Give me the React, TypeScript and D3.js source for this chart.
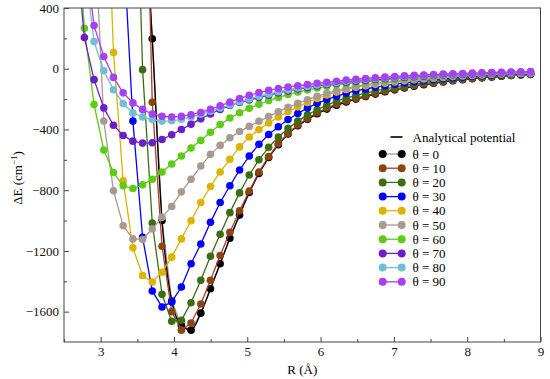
import React, { useEffect, useRef } from 'react';
import * as d3 from 'd3';

// R grid (Å), 0.25 bohr steps
const rA = [2.646, 2.778, 2.910, 3.043, 3.175, 3.307, 3.440, 3.572, 3.704, 3.837,
  3.969, 4.101, 4.233, 4.366, 4.498, 4.630, 4.763, 4.895, 5.027, 5.159,
  5.292, 5.424, 5.556, 5.689, 5.821, 5.953, 6.085, 6.218, 6.350, 6.482,
  6.615, 6.747, 6.879, 7.012, 7.144, 7.276, 7.408, 7.541, 7.673, 7.805,
  7.938, 8.070, 8.202, 8.335, 8.467, 8.599, 8.731, 8.864];

const thetas = [0, 10, 20, 30, 40, 50, 60, 70, 80, 90];

// ΔE (cm-1), null = not computed / far off the chart
const e0 = [null, null, null, null, null, null, null,
  1300, 197, -1000, -1530, -1690, -1722, -1610, -1449, -1285, -1117,
  -964, -815, -690, -585, -500, -430, -376, -333, -297, -266,
  -240, -219, -200, -183, -167, -152, -139, -127, -115, -105,
  -96, -87, -79, -72, -66, -60, -55, -50, -45, -41, -38];
const e10 = [null, null, null, null, null, null, null,
  2400, -221, -1169, -1600, -1722, -1675, -1550, -1394, -1231, -1077,
  -936, -805, -680, -578, -493, -425, -371, -327, -290, -259,
  -233, -212, -195, -178, -162, -147, -134, -122, -111, -101,
  -92, -84, -77, -70, -64, -58, -53, -48, -44, -40, -37];
const e20 = [null, null, null, null, null, null,
  2150, -6, -1016, -1486, -1663, -1657, -1541, -1394, -1235, -1090,
  -948, -818, -700, -600, -518, -450, -393, -345, -304, -270,
  -240, -214, -193, -175, -160, -146, -133, -121, -110, -100,
  -91, -83, -76, -69, -63, -58, -53, -48, -44, -41, -38, -35];
const e30 = [null, null, null, null, null,
  860, -345, -1110, -1464, -1569, -1536, -1438, -1285, -1154, -1012,
  -881, -771, -667, -575, -498, -433, -382, -334, -295, -258,
  -228, -203, -181, -162, -145, -133, -122, -112, -102, -94,
  -86, -79, -72, -66, -61, -56, -51, -47, -43, -40, -37, -34, -32];
const e40 = [null, null, null,
  1780, 107, -739, -1180, -1362, -1405, -1341, -1241, -1121, -1001,
  -881, -776, -680, -597, -515, -450, -400, -357, -318, -283,
  -251, -222, -196, -173, -154, -137, -122, -112, -103, -95,
  -87, -80, -73, -67, -62, -57, -52, -48, -44, -41, -38, -35, -33, -31, -29];
const e50 = [null, null,
  1000, -345, -804, -1034, -1121, -1125, -1056, -979, -907, -811,
  -728, -641, -564, -505, -455, -413, -380, -346, -315, -283,
  -254, -228, -204, -182, -162, -145, -130, -116, -106, -97,
  -89, -82, -75, -69, -63, -58, -53, -49, -45, -42, -39, -36, -33, -31, -29, -27];
const e60 = [1200, 267, -236, -535, -684, -771, -789, -765, -728, -680,
  -628, -575, -522, -472, -418, -368, -325, -290, -260, -234,
  -210, -189, -170, -154, -140, -127, -116, -106, -99, -93,
  -86, -80, -74, -68, -63, -58, -54, -50, -46, -43,
  -40, -37, -34, -32, -30, -28, -26, -25];
const e70 = [900, 205, -72, -258, -372, -440, -477, -490, -488, -466,
  -435, -400, -365, -330, -298, -268, -242, -222, -206, -190,
  -174, -159, -146, -134, -123, -113, -104, -96, -89, -83,
  -77, -71, -66, -61, -57, -53, -49, -45, -42, -39,
  -36, -34, -31, -29, -27, -26, -24, -23];
const e80 = [null, 700, 179, -13, -138, -229, -291, -318, -335, -345,
  -343, -333, -318, -300, -280, -259, -238, -218, -199, -182,
  -166, -152, -139, -127, -116, -107, -98, -90, -82, -75,
  -70, -65, -60, -56, -52, -48, -44, -41, -38, -36,
  -33, -31, -29, -27, -25, -24, -22, -21];
const e90 = [null, 800, 284, 81, -57, -159, -225, -268, -298, -313,
  -318, -314, -303, -288, -268, -244, -220, -196, -175, -157,
  -142, -130, -120, -112, -104, -96, -89, -82, -75, -69,
  -64, -59, -55, -51, -47, -44, -41, -38, -35, -33,
  -31, -29, -27, -25, -23, -22, -20, -19];

// analytical potential follows the θ = 0 points
const analyticalE = e0;

const series = [e0, e10, e20, e30, e40, e50, e60, e70, e80, e90];
const markerColors = ['#000000', '#8b4513', '#3b6e14', '#0000ff', '#dcb400',
  '#a89a90', '#5ccc14', '#6a1fc9', '#72bfd2', '#a640f2'];
const lineColors = ['#9a9a9a', '#b03a22', '#3b6e14', '#0000ff', '#dcb400',
  '#a89a90', '#5ccc14', '#6a1fc9', '#72bfd2', '#a640f2'];

const xTicks = [3, 4, 5, 6, 7, 8, 9];
const xMinor = [2.5, 3.5, 4.5, 5.5, 6.5, 7.5, 8.5];
const yTicks = [-1600, -1200, -800, -400, 0, 400];
const yMinor = [-1400, -1000, -600, -200, 200];

const FONT = "'Liberation Serif', 'Times New Roman', Times, serif";

const App = () => {
  const svgRef = useRef(null);

  const width = 550;
  const height = 379;
  const marginTop = 8;
  const marginRight = 9.5;
  const marginBottom = 37;
  const marginLeft = 64;

  useEffect(() => {
    const svg = d3.select(svgRef.current);
    svg.selectAll('*').remove();

    const x = d3.scaleLinear().domain([2.5, 9]).range([marginLeft, width - marginRight]);
    const y = d3.scaleLinear().domain([-1800, 400]).range([height - marginBottom, marginTop]);
    const fmt = d3.format('d');

    svg.append('defs').append('clipPath').attr('id', 'plot-clip')
      .append('rect')
      .attr('x', marginLeft).attr('y', marginTop)
      .attr('width', width - marginLeft - marginRight)
      .attr('height', height - marginTop - marginBottom);

    const plot = svg.append('g').attr('clip-path', 'url(#plot-clip)');

    series.forEach((vals, i) => {
      const pts = rA.map((r, j) => [r, vals[j]]);
      const line = d3.line()
        .defined(d => d[1] != null)
        .x(d => x(d[0]))
        .y(d => y(d[1]));
      plot.append('path')
        .datum(pts)
        .attr('fill', 'none')
        .attr('stroke', lineColors[i])
        .attr('stroke-width', 1.3)
        .attr('d', line);
      plot.append('g')
        .selectAll('circle')
        .data(pts.filter(d => d[1] != null))
        .join('circle')
        .attr('cx', d => x(d[0]))
        .attr('cy', d => y(d[1]))
        .attr('r', 3.8)
        .attr('fill', markerColors[i]);

      if (i === 0) {
        const aLine = d3.line()
          .defined(d => d[1] != null)
          .curve(d3.curveMonotoneX)
          .x(d => x(d[0]))
          .y(d => y(d[1]));
        plot.append('path')
          .datum(rA.map((r, j) => [r, analyticalE[j]]))
          .attr('fill', 'none')
          .attr('stroke', '#000')
          .attr('stroke-width', 1.4)
          .attr('d', aLine);
      }
    });

    // axes, ticks pointing inward
    const styleAxis = g => {
      g.attr('font-family', null);
      g.select('.domain').remove();
      g.selectAll('line').attr('stroke', '#444');
      g.selectAll('text').style('font-family', FONT).style('font-size', '13px').attr('fill', '#111');
    };

    svg.append('g')
      .attr('transform', `translate(0,${height - marginBottom})`)
      .call(d3.axisBottom(x).tickValues(xTicks).tickSize(-5).tickPadding(5).tickFormat(fmt))
      .call(styleAxis);
    svg.append('g')
      .attr('transform', `translate(0,${height - marginBottom})`)
      .call(d3.axisBottom(x).tickValues(xMinor).tickSize(-3).tickFormat(() => ''))
      .call(styleAxis);
    svg.append('g')
      .attr('transform', `translate(${marginLeft},0)`)
      .call(d3.axisLeft(y).tickValues(yTicks).tickSize(-5).tickPadding(5).tickFormat(fmt))
      .call(styleAxis);
    svg.append('g')
      .attr('transform', `translate(${marginLeft},0)`)
      .call(d3.axisLeft(y).tickValues(yMinor).tickSize(-3).tickFormat(() => ''))
      .call(styleAxis);

    svg.append('rect')
      .attr('x', marginLeft).attr('y', marginTop)
      .attr('width', width - marginLeft - marginRight)
      .attr('height', height - marginTop - marginBottom)
      .attr('fill', 'none')
      .attr('stroke', '#444')
      .attr('stroke-width', 1);

    // axis titles
    svg.append('text')
      .attr('x', (marginLeft + width - marginRight) / 2)
      .attr('y', height - 5)
      .attr('text-anchor', 'middle')
      .style('font-family', FONT).style('font-size', '13px')
      .text('R (Å)');

    const yt = svg.append('text')
      .attr('transform', `translate(22,${(marginTop + height - marginBottom) / 2 + 3}) rotate(-90)`)
      .attr('text-anchor', 'middle')
      .style('font-family', FONT).style('font-size', '13px');
    yt.append('tspan').text('ΔE (cm');
    yt.append('tspan').attr('dy', -5).style('font-size', '9px').text('−1');
    yt.append('tspan').attr('dy', 5).text(')');

    // legend
    const lg = svg.append('g').style('font-family', FONT).style('font-size', '13px');
    lg.append('line')
      .attr('x1', 390.5).attr('x2', 402.5).attr('y1', 137).attr('y2', 137)
      .attr('stroke', '#000').attr('stroke-width', 1.6);
    lg.append('text').attr('x', 412.5).attr('y', 137).attr('dy', '0.35em')
      .text('Analytical potential');

    thetas.forEach((t, i) => {
      const yy = 154 + i * 14.2;
      lg.append('line')
        .attr('x1', 382.7).attr('x2', 401.7).attr('y1', yy).attr('y2', yy)
        .attr('stroke', lineColors[i]).attr('stroke-width', 1.3);
      [382.7, 401.7].forEach(cx => {
        lg.append('circle').attr('cx', cx).attr('cy', yy).attr('r', 4).attr('fill', markerColors[i]);
      });
      lg.append('text').attr('x', 412.5).attr('y', yy).attr('dy', '0.35em')
        .text(`θ = ${t}`);
    });
  }, []);

  return (
    <div style={{ position: 'absolute', left: 0, top: 0, background: '#fff' }}>
      <svg ref={svgRef} width={550} height={379} style={{ display: 'block' }}></svg>
    </div>
  );
};

export default App;
